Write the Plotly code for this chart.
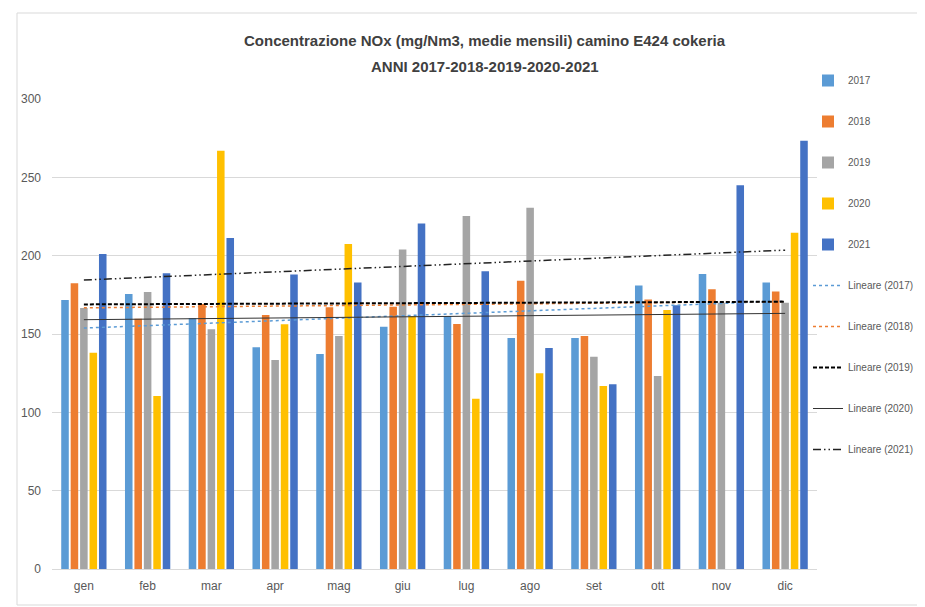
import numpy as np
import plotly.graph_objects as go

months = ["gen", "feb", "mar", "apr", "mag", "giu", "lug", "ago", "set", "ott", "nov", "dic"]
years = ["2017", "2018", "2019", "2020", "2021"]

v2017 = [171.7, 175.5, 160.2, 141.5, 137.2, 154.7, 161.5, 147.4, 147.4, 181.0, 188.3, 182.8]
v2018 = [182.4, 159.8, 169.1, 162.1, 167.0, 167.4, 156.4, 184.0, 148.7, 172.1, 178.5, 177.2]
v2019 = [166.6, 176.8, 153.0, 133.4, 148.7, 204.0, 225.3, 230.6, 135.5, 123.2, 170.0, 170.0]
v2020 = [138.1, 110.4, 267.0, 156.2, 207.4, 161.5, 108.7, 124.9, 116.8, 165.3, None, 214.7]
v2021 = [201.0, 188.7, 211.3, 187.9, 182.8, 220.6, 190.0, 141.0, 118.0, 168.3, 244.9, 273.4]

series = [v2017, v2018, v2019, v2020, v2021]
bar_colors = ["#5B9BD5", "#ED7D31", "#A5A5A5", "#FFC000", "#4472C4"]
trend_styles = [
    dict(color="#5B9BD5", dash="dot", width=1.5),
    dict(color="#ED7D31", dash="dot", width=1.5),
    dict(color="#000000", dash="4px,2px", width=2),
    dict(color="#333333", dash="solid", width=1),
    dict(color="#222222", dash="8px,3px,1.5px,3px,1.5px,3px", width=1.5),
]

FONT = "Liberation Sans"
x = np.arange(len(months))

fig = go.Figure()
for i, (yr, vals) in enumerate(zip(years, series)):
    fig.add_trace(go.Bar(
        x=x, y=vals, name=yr, marker=dict(color=bar_colors[i], line=dict(width=0)),
        legendgroup=yr,
    ))

for i, (yr, vals) in enumerate(zip(years, series)):
    xs = np.array([k for k, v in enumerate(vals) if v is not None], dtype=float)
    ys = np.array([v for v in vals if v is not None], dtype=float)
    slope, inter = np.polyfit(xs, ys, 1)
    tx = np.array([x[0], x[-1]], dtype=float)
    fig.add_trace(go.Scatter(
        x=tx, y=slope * tx + inter, mode="lines", name=f"Lineare ({yr})",
        line=trend_styles[i], legendgroup="t" + yr,
    ))

# page body has an 8px margin on each side: screen coords = figure coords + 8
OFF = 8
W, H = 925 - 2 * OFF, 607 - OFF
# plot area in screen pixels
SX0, SX1, SY0, SY1 = 52, 817, 99, 569
L, R, T, B = SX0 - OFF, W - (SX1 - OFF), SY0 - OFF, H - (SY1 - OFF)
pw, ph = W - L - R, H - T - B

def px_x(p):
    return (p - SX0) / pw

def px_y(p):
    return (SY1 - p) / ph

fig.update_layout(
    width=W, height=H,
    margin=dict(l=L, r=R, t=T, b=B, pad=0, autoexpand=False),
    paper_bgcolor="white", plot_bgcolor="white",
    barmode="group", bargap=0.26, bargroupgap=0.2,
    font=dict(family=FONT, size=12, color="#595959"),
    showlegend=True,
    legend=dict(
        x=px_x(808), xanchor="left", y=px_y(66), yanchor="top",
        font=dict(family=FONT, size=10, color="#595959"),
        tracegroupgap=22, bgcolor="rgba(0,0,0,0)", borderwidth=0,
        traceorder="grouped", maxheight=560,
    ),
    xaxis=dict(
        tickmode="array", tickvals=list(x), ticktext=months,
        range=[-0.5, len(months) - 0.5], showgrid=False, zeroline=False,
        showline=False, ticks="", ticklabelstandoff=8, automargin=False,
        tickfont=dict(family=FONT, size=12, color="#595959"),
    ),
    yaxis=dict(
        range=[0, 300], tickvals=[0, 50, 100, 150, 200, 250, 300],
        showgrid=True, gridcolor="#D9D9D9", gridwidth=1, zeroline=True,
        zerolinecolor="#D9D9D9", zerolinewidth=1, showline=False, ticks="",
        ticklabelstandoff=10, automargin=False,
        tickfont=dict(family=FONT, size=12, color="#595959"),
    ),
    annotations=[
        dict(text="<b>Concentrazione NOx (mg/Nm3, medie mensili) camino E424 cokeria</b>",
             xref="paper", yref="paper", x=px_x(485), y=px_y(40), xanchor="center", yanchor="middle",
             showarrow=False, font=dict(family=FONT, size=15, color="#404040")),
        dict(text="<b>ANNI 2017-2018-2019-2020-2021</b>",
             xref="paper", yref="paper", x=px_x(485), y=px_y(67), xanchor="center", yanchor="middle",
             showarrow=False, font=dict(family=FONT, size=15, color="#404040")),
    ],
    shapes=[
        dict(type="rect", xref="paper", yref="paper",
             x0=px_x(17), x1=px_x(935), y0=px_y(605), y1=px_y(13),
             line=dict(color="#D9D9D9", width=1), layer="below"),
    ],
)

fig.write_html("out.html")
